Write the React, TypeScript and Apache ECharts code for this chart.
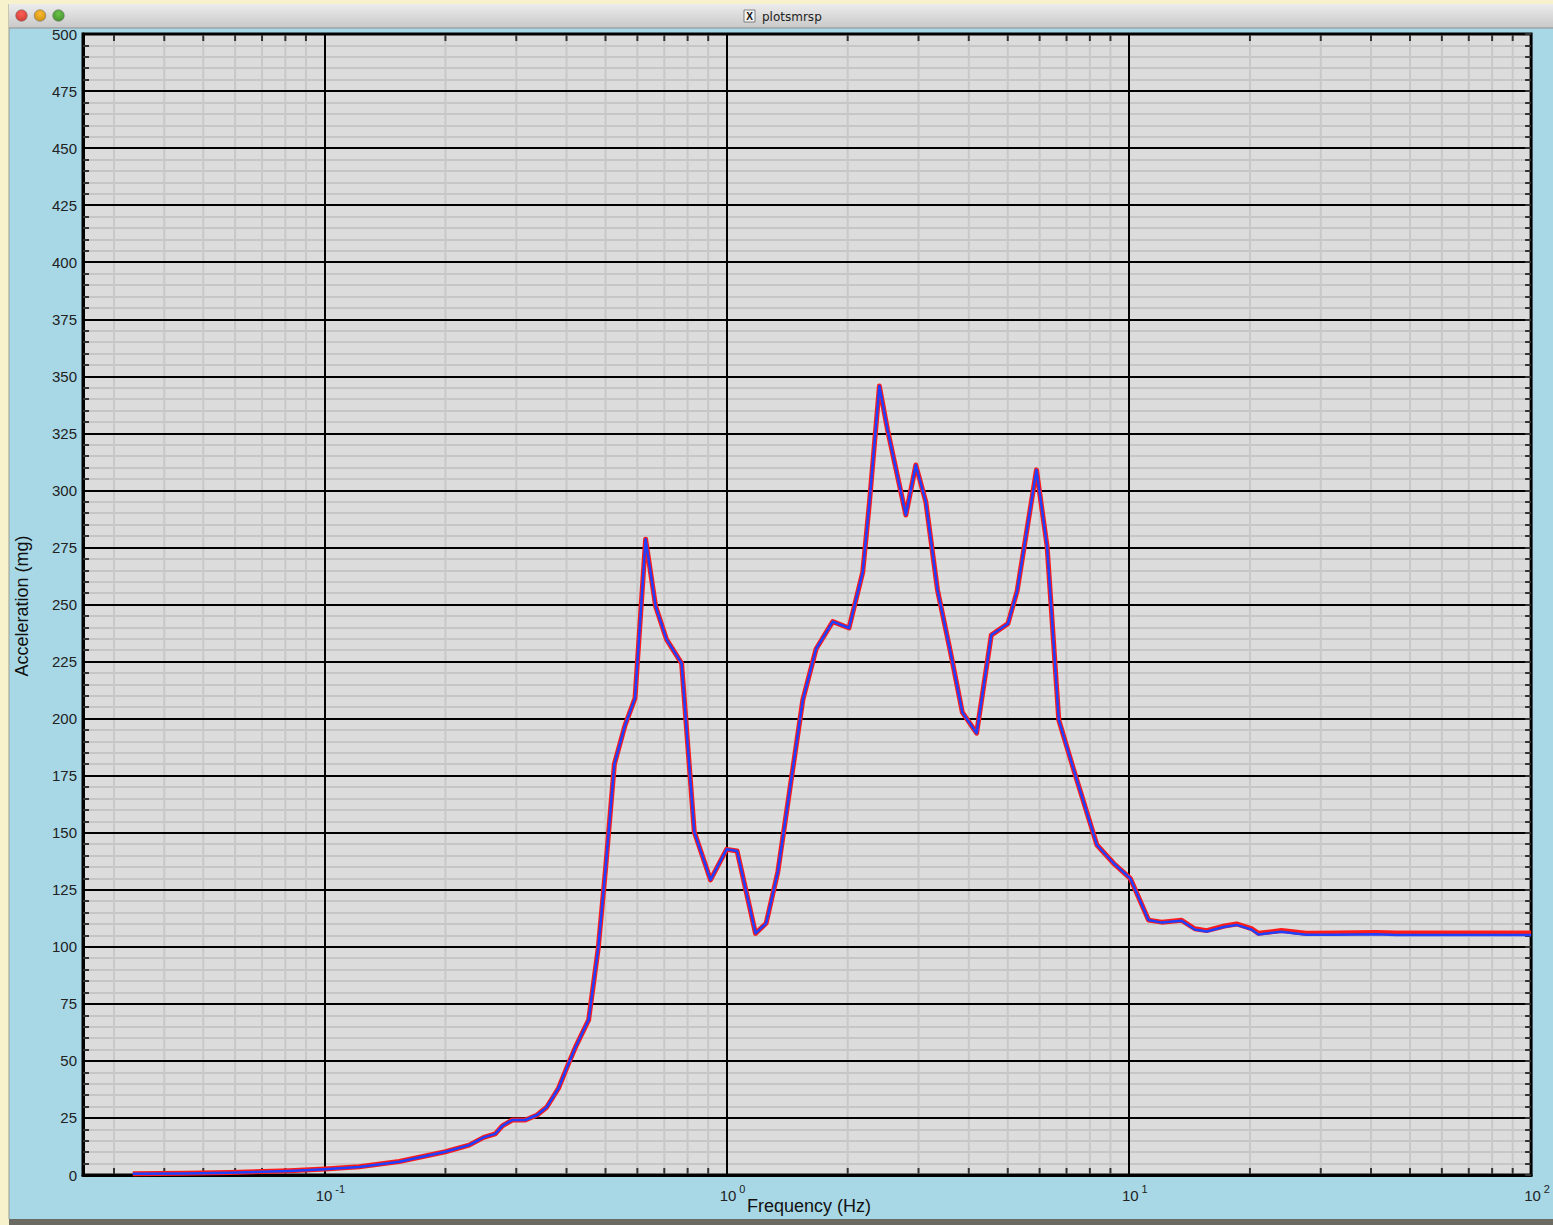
import React, { useEffect, useRef } from "react";
import * as echarts from "echarts";

// ---- data ----
const frequencies = [
  0.0334, 0.045, 0.0581, 0.0819, 0.1, 0.122, 0.1535, 0.2, 0.229, 0.249, 0.266, 0.277, 0.293, 0.316,
  0.338, 0.357, 0.382, 0.405, 0.421, 0.454, 0.48, 0.5, 0.526, 0.559, 0.592, 0.629, 0.666, 0.709,
  0.773, 0.831, 0.912, 1.0, 1.062, 1.18, 1.254, 1.341, 1.547, 1.669, 1.836, 2.015, 2.18, 2.264,
  2.398, 2.513, 2.79, 2.954, 3.128, 3.344, 3.607, 3.856, 4.184, 4.55, 5.005, 5.277, 5.893, 6.264,
  6.696, 7.295, 8.33, 9.165, 10.08, 11.19, 12.07, 13.53, 14.58, 15.61, 17.3, 18.53, 20.17, 21.0,
  23.94, 27.6, 32.8, 41.2, 46.2, 100,
];
const blueValues = [
  0.5, 0.7, 1.0, 1.8, 2.5, 3.5, 5.8, 10.2, 13.1, 16.5, 18, 21.5, 24.1, 24.1,
  26.3, 29.7, 38, 49, 56, 68, 100, 134, 180, 197, 209, 278.6, 249.3, 234.7,
  224.2, 150.4, 129.3, 142.7, 142, 105.9, 110.3, 132.9, 208.2, 230.5, 242.5, 239.7, 264.2, 294.3,
  345.7, 326.5, 289.2, 311.1, 295, 256.4, 228.6, 202.7, 193.6, 236.6, 241.6, 256, 309, 275.3,
  199.4, 177.5, 144.6, 136.6, 130, 111.7, 110.6, 111.4, 107.6, 106.7, 108.8, 109.6, 107.6, 105.4,
  106.6, 105.3, 105.3, 105.5, 105.2, 105.2,
];
const redValues = [
  0.6, 0.8, 1.1, 1.9, 2.6, 3.6, 5.9, 10.2, 13.1, 16.5, 18, 21.5, 24.1, 24.1,
  26.3, 29.7, 38, 49, 56, 68, 100, 134, 180, 197, 209, 278.6, 249.3, 234.7,
  224.2, 150.4, 129.3, 142.7, 142, 105.9, 110.3, 132.9, 208.2, 230.5, 242.5, 239.7, 264.2, 294.3,
  345.7, 326.5, 289.2, 311.1, 295, 256.4, 228.6, 202.7, 193.6, 236.6, 241.6, 256, 309, 275.3,
  199.4, 177.5, 144.6, 136.6, 130, 111.7, 110.8, 111.6, 107.9, 107.1, 109.1, 110.0, 108.0, 105.9,
  107.1, 105.9, 106.1, 106.3, 106.0, 106.0,
];
const minorFrequencies = [
  0.03, 0.04, 0.05, 0.06, 0.07, 0.08, 0.09,
  0.2, 0.3, 0.4, 0.5, 0.6, 0.7, 0.8, 0.9,
  2, 3, 4, 5, 6, 7, 8, 9,
  20, 30, 40, 50, 60, 70, 80, 90,
];
const xMin = Math.pow(10, -1.6);
const xMax = 100;
const yMin = 0;
const yMax = 500;
const yInterval = 25;

const FONT = "'Liberation Sans', Arial, Helvetica, sans-serif";
const TEXT = "#222";

export default function App() {
  const ref = useRef<HTMLDivElement>(null);
  useEffect(() => {
    const chart = echarts.init(ref.current!, null, { renderer: "svg" });
    const option: any = {
      animation: false,
      backgroundColor: "#a8d8e6",
      grid: {
        left: 83,
        right: 18,
        top: 34,
        bottom: 50,
        show: true,
        backgroundColor: "#dcdcdc",
        borderColor: "#000",
        borderWidth: 3,
      },
      xAxis: {
        type: "log",
        logBase: 10,
        min: xMin,
        max: xMax,
        axisLine: { show: true, lineStyle: { color: "#000", width: 3 } },
        axisTick: { show: false },
        splitLine: { show: true, lineStyle: { color: "#000", width: 2 } },
        axisLabel: {
          margin: 8,
          padding: [0, 0, 0, 12],
          formatter: (v: number) => {
            const e = Math.log10(v);
            const r = Math.round(e);
            if (Math.abs(e - r) > 1e-6) return "";
            return `{b|10}{s|${r}}`;
          },
          rich: {
            b: { fontSize: 15, fontFamily: FONT, color: TEXT, lineHeight: 20, verticalAlign: "bottom" },
            s: { fontSize: 11, fontFamily: FONT, color: TEXT, lineHeight: 12, verticalAlign: "top", padding: [0, 0, 0, 3] },
          },
        },
      },
      yAxis: [
        {
          type: "value",
          min: yMin,
          max: yMax,
          interval: yInterval,
          axisLine: { show: true, lineStyle: { color: "#000", width: 3 } },
          axisTick: { show: true, inside: true, length: 6, lineStyle: { color: "#333", width: 2 } },
          minorTick: { show: true, splitNumber: 5, length: 6, lineStyle: { color: "#333", width: 2 } },
          splitLine: { show: false },
          minorSplitLine: { show: true, lineStyle: { color: "#c6c6c6", width: 2 } },
          axisLabel: { margin: 6, fontSize: 15, fontFamily: FONT, color: TEXT },
        },
        {
          type: "value",
          position: "right",
          min: yMin,
          max: yMax,
          interval: yInterval,
          z: 2,
          axisLine: { show: false },
          axisLabel: { show: false },
          axisTick: { show: true, inside: true, length: 6, lineStyle: { color: "#333", width: 2 } },
          minorTick: { show: true, splitNumber: 5, length: 6, lineStyle: { color: "#333", width: 2 } },
          splitLine: { show: true, lineStyle: { color: "#000", width: 2 } },
          minorSplitLine: { show: false },
        },
      ],
      graphic: [
        { type: "rect", shape: { x: 0, y: 0, width: 9, height: 1225 }, style: { fill: "#f7f2cc" }, silent: true },
        { type: "rect", shape: { x: 0, y: 0, width: 1553, height: 4 }, style: { fill: "#f7f2cc" }, silent: true },
        { type: "rect", shape: { x: 9, y: 1219, width: 1544, height: 6 }, style: { fill: "#6b6b63" }, silent: true },
        { type: "line", shape: { x1: 9, y1: 4, x2: 9, y2: 1219 }, style: { stroke: "#9a9a90", lineWidth: 1 }, silent: true },
        {
          type: "rect",
          shape: { x: 9, y: 4, width: 1544, height: 24 },
          style: {
            fill: new echarts.graphic.LinearGradient(0, 0, 0, 1, [
              { offset: 0, color: "#ececec" },
              { offset: 1, color: "#c8c8c8" },
            ]),
          },
          silent: true,
        },
        { type: "line", shape: { x1: 9, y1: 28, x2: 1553, y2: 28 }, style: { stroke: "#8f8f8f", lineWidth: 1 }, silent: true },
        ...[
          ["#ff5f57", "#c93a33", 21.5],
          ["#febc2e", "#c78d14", 40],
          ["#6cc24a", "#3f8f2a", 58.5],
        ].map(([c1, c2, cx]) => ({
          type: "circle",
          shape: { cx, cy: 15.5, r: 5.8 },
          style: {
            fill: new echarts.graphic.RadialGradient(0.5, 0.35, 0.7, [
              { offset: 0, color: c1 },
              { offset: 1, color: c2 },
            ]),
            stroke: "#7a7a7a",
            lineWidth: 0.6,
          },
          silent: true,
        })),
        { type: "rect", shape: { x: 744, y: 10, width: 11, height: 12 }, style: { fill: "#f4f4f4", stroke: "#666", lineWidth: 0.8 }, silent: true },
        { type: "text", x: 749.5, y: 16.5, style: { text: "X", font: `bold 10px ${FONT}`, fill: "#111", align: "center", verticalAlign: "middle" }, silent: true },
        { type: "text", x: 762, y: 16.5, style: { text: "plotsmrsp", font: `12px 'DejaVu Sans', ${FONT}`, fill: "#222", align: "left", verticalAlign: "middle" }, silent: true },
        { type: "text", x: 809, y: 1206, style: { text: "Frequency (Hz)", font: `18px ${FONT}`, fill: "#111", align: "center", verticalAlign: "middle" }, silent: true },
        {
          type: "text",
          x: 22,
          y: 606,
          rotation: Math.PI / 2,
          style: { text: "Acceleration (mg)", font: `18px ${FONT}`, fill: "#111", align: "center", verticalAlign: "middle" },
          silent: true,
        },
      ],
      series: [
        {
          type: "custom",
          z: 1,
          silent: true,
          data: minorFrequencies.map((f) => [f, yMin]),
          encode: { x: 0, y: 1 },
          renderItem: (params: any, api: any) => {
            const f = api.value(0);
            const top = api.coord([f, yMax]);
            const bot = api.coord([f, yMin]);
            return {
              type: "group",
              children: [
                { type: "line", shape: { x1: top[0], y1: top[1], x2: bot[0], y2: bot[1] }, style: { stroke: "#c8c8c8", lineWidth: 2 } },
                { type: "line", shape: { x1: top[0], y1: top[1], x2: top[0], y2: top[1] + 7 }, style: { stroke: "#333", lineWidth: 2 } },
                { type: "line", shape: { x1: bot[0], y1: bot[1], x2: bot[0], y2: bot[1] - 7 }, style: { stroke: "#333", lineWidth: 2 } },
              ],
            };
          },
        },
        {
          type: "line",
          name: "red",
          z: 3,
          symbol: "none",
          showSymbol: false,
          data: frequencies.map((f, i) => [f, redValues[i]]),
          lineStyle: { color: "#ff1a1a", width: 5, join: "round" },
        },
        {
          type: "line",
          name: "blue",
          z: 4,
          symbol: "none",
          showSymbol: false,
          data: frequencies.map((f, i) => [f, blueValues[i]]),
          lineStyle: { color: "#2040ff", width: 2.5, join: "round" },
        },
      ],
    };
    chart.setOption(option);
    return () => chart.dispose();
  }, []);
  return <div ref={ref} style={{ position: "fixed", left: 0, top: 0, width: 1553, height: 1225 }} />;
}
